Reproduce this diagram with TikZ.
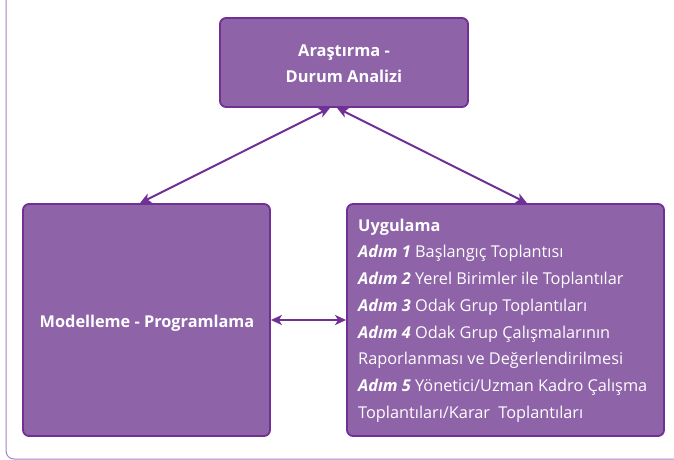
\documentclass[tikz,border=0pt]{standalone}
\usepackage{fontspec}
\setmainfont{Open Sans}
\usetikzlibrary{arrows.meta,calc}
\definecolor{boxfill}{RGB}{142,99,168}
\definecolor{boxline}{RGB}{112,48,150}
\definecolor{frameline}{RGB}{165,130,195}
\tikzset{
  pbox/.style={draw=boxline, line width=1.8pt, fill=boxfill, rounded corners=6pt,
    text=white, inner sep=0pt},
  arr/.style={draw=boxline, line width=2pt,
    {Stealth[length=11pt,width=10pt,inset=3pt]}-{Stealth[length=11pt,width=10pt,inset=3pt]}},
}
\begin{document}
\begin{tikzpicture}[x=1pt,y=-1pt]
\useasboundingbox (0,0) rectangle (674,460);
\begin{scope}
\clip (0,0) rectangle (674,460);
\draw[frameline, line width=1pt, rounded corners=8pt] (6,-20) rectangle (700,459);
\end{scope}

\node[pbox, minimum width=248pt, minimum height=89pt] (top) at (344,62.5) {};
\node[text=white, font=\bfseries\fontsize{16.4}{26}\selectfont, align=center, inner sep=0pt] (toptext) at (344,63.5)
  {Araştırma -\\Durum Analizi};

\node[pbox, minimum width=247pt, minimum height=232pt] (left) at (146.5,320) {};
\node[text=white, font=\bfseries\fontsize{16.3}{18}\selectfont, inner sep=0pt] (lefttext) at (147,323.5) {Modelleme - Programlama};

\node[pbox, minimum width=317pt, minimum height=232pt] (right) at (505.5,320) {};
\node[text=white, font=\fontsize{16.3}{26.75}\selectfont, align=left, anchor=north west, inner sep=0pt] (righttext) at (358,218.5)
  {\textbf{Uygulama}\\
   \textbf{\textit{Adım 1}} Başlangıç Toplantısı\\
   \textbf{\textit{Adım 2}} Yerel Birimler ile Toplantılar\\
   \textbf{\textit{Adım 3}} Odak Grup Toplantıları\\
   \textbf{\textit{Adım 4}} Odak Grup Çalışmalarının\\
   Raporlanması ve Değerlendirilmesi\\
   \textbf{\textit{Adım 5}} Yönetici/Uzman Kadro Çalışma\\
   Toplantıları/Karar\ \ Toplantıları};

\draw[arr] ([xshift=-14pt]top.south) -- ([xshift=-6.5pt]left.north);
\draw[arr] ([xshift=-7pt]top.south) -- ([xshift=21.5pt]right.north);
\draw[arr] (left.east) -- (right.west);
\end{tikzpicture}
\end{document}
